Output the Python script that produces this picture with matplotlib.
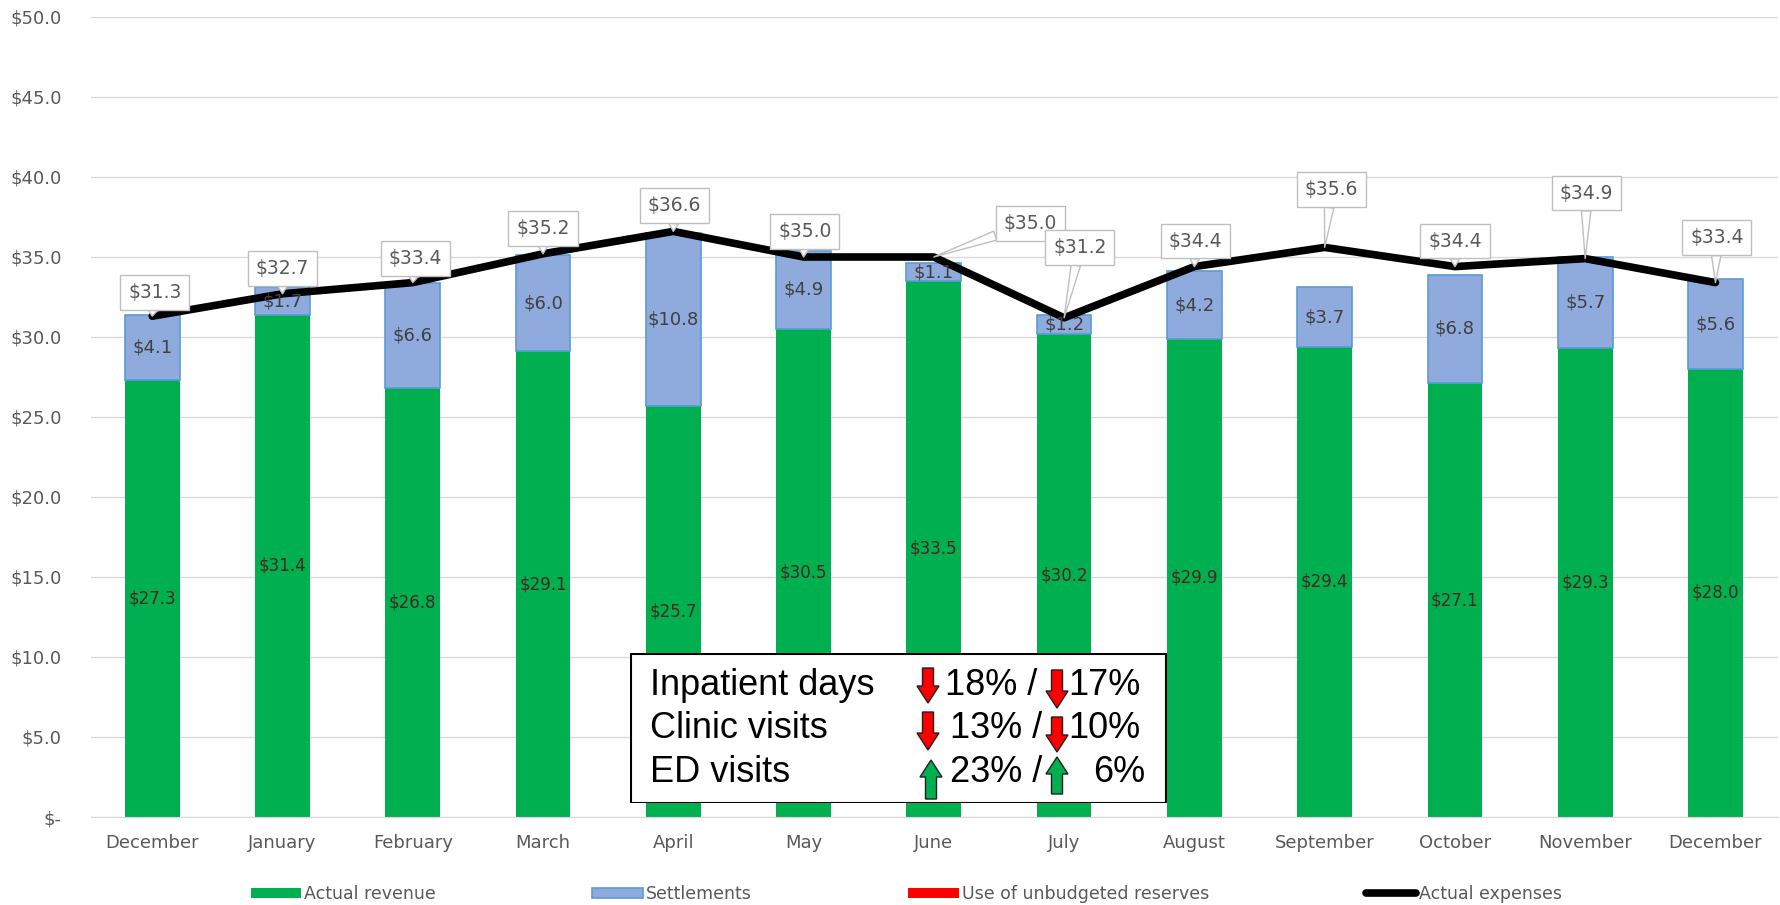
import matplotlib.pyplot as plt
from matplotlib.patches import Rectangle, Polygon
from matplotlib.ticker import FuncFormatter, MultipleLocator

plt.rcParams['font.family'] = ['DejaVu Sans']

months = ['December', 'January', 'February', 'March', 'April', 'May', 'June',
          'July', 'August', 'September', 'October', 'November', 'December']
revenue = [27.3, 31.4, 26.8, 29.1, 25.7, 30.5, 33.5, 30.2, 29.9, 29.4, 27.1, 29.3, 28.0]
settlements = [4.1, 1.7, 6.6, 6.0, 10.8, 4.9, 1.1, 1.2, 4.2, 3.7, 6.8, 5.7, 5.6]
reserves = [0.0] * 13
expenses = [31.3, 32.7, 33.4, 35.2, 36.6, 35.0, 35.0, 31.2, 34.4, 35.6, 34.4, 34.9, 33.4]

stat_names = ['Inpatient days', 'Clinic visits', 'ED visits']
stat_a = ['18%', '13%', '23%']
stat_b = ['17%', '10%', '6%']
stat_up = [False, False, True]

# where each expense callout box sits, relative to its point (x in categories, y in $)
callout_dx = [0.02, 0, 0.02, 0, 0.01, 0.01, 0.74, 0.12, 0.01, 0.05, 0, 0.01, 0.01]
callout_dy = [1.5, 1.6, 1.5, 1.6, 1.6, 1.6, 2.1, 4.4, 1.6, 3.6, 1.6, 4.1, 2.8]

GREEN = '#00B050'
BLUE = '#8FAADC'
GREY = '#595959'

fig = plt.figure(figsize=(17.81, 9.05), dpi=100)
ax = fig.add_axes([91 / 1781, 1 - 817 / 905, (1778 - 91) / 1781, (817 - 17) / 905])

x = list(range(len(months)))
tops = [r + s for r, s in zip(revenue, settlements)]

b1 = ax.bar(x, revenue, width=0.42, color=GREEN, zorder=2, label='Actual revenue')
b2 = ax.bar(x, settlements, bottom=revenue, width=0.42, color=BLUE,
            edgecolor='#5B9BD5', linewidth=1.2, zorder=2, label='Settlements')
b3 = ax.bar(x, reserves, bottom=tops, width=0.42, color='#FF0000', linewidth=0,
            zorder=2, label='Use of unbudgeted reserves')
ln, = ax.plot(x, expenses, color='black', lw=5.5, zorder=3, label='Actual expenses',
              solid_capstyle='round')

ax.bar_label(b1, labels=[f'${v:.1f}' for v in revenue], label_type='center',
             color='#4A2820', fontsize=12)
ax.bar_label(b2, labels=[f'${v:.1f}' for v in settlements], label_type='center',
             color='#404040', fontsize=13)

for i, v in enumerate(expenses):
    ax.annotate(f'${v:.1f}', xy=(i, v), xytext=(i + callout_dx[i], v + callout_dy[i]),
                ha='center', va='center', fontsize=13.5, color=GREY, zorder=5,
                bbox=dict(boxstyle='square,pad=0.42', fc='white', ec='#BFBFBF', lw=1),
                arrowprops=dict(arrowstyle='wedge,tail_width=0.5,shrink_factor=0.5',
                                fc='white', ec='#BFBFBF', lw=1, shrinkA=0, shrinkB=0))

ax.set_xlim(-0.47, 12.48)
ax.set_ylim(0, 50)
ax.yaxis.set_major_locator(MultipleLocator(5))
ax.yaxis.set_major_formatter(FuncFormatter(lambda v, p: '$-' if v == 0 else f'${v:.1f}'))
ax.set_xticks(x)
ax.set_xticklabels(months)
ax.tick_params(axis='y', length=0, pad=21, labelsize=13, labelcolor=GREY)
ax.tick_params(axis='x', length=0, pad=12, labelsize=13, labelcolor=GREY)
ax.grid(axis='y', color='#D9D9D9', lw=1, zorder=0)
ax.set_axisbelow(True)
for s in ['top', 'right', 'left']:
    ax.spines[s].set_visible(False)
ax.spines['bottom'].set_color('#D9D9D9')

leg = fig.legend(handles=[b1, b2, b3, ln], loc='center', bbox_to_anchor=(0.509, 0.012),
                 ncol=4, frameon=False, fontsize=12.5, handlelength=2.9,
                 handleheight=0.55, handletextpad=0.2, columnspacing=9.0)
for t in leg.get_texts():
    t.set_color(GREY)

# stats box, in pixel units
bw, bh = 537, 150
bx = fig.add_axes([630 / 1781, (905 - 803) / 905, bw / 1781, bh / 905])
bx.set_xlim(0, bw)
bx.set_ylim(0, bh)
bx.axis('off')
bx.add_patch(Rectangle((0.5, 0.5), bw - 1, bh - 1, fc='white', ec='black', lw=1.5))


def arrow(axx, xc, y0, y1, up, color):
    # y0 = tail, y1 = tip
    hw, sw, hl = 11, 5.5, 17
    d = 1 if up else -1
    yb = y1 - d * hl
    pts = [(xc - sw, y0), (xc + sw, y0), (xc + sw, yb), (xc + hw, yb), (xc, y1),
           (xc - hw, yb), (xc - sw, yb)]
    axx.add_patch(Polygon(pts, closed=True, fc=color, ec='#202020', lw=1))


row_y = [118, 75, 31]
arr_a = [(135, 100), (91, 53), (4, 43)]
arr_b = [(133, 95), (86, 51), (9, 46)]
for k in range(3):
    yc = row_y[k]
    c = GREEN if stat_up[k] else '#FF0000'
    bx.text(20, yc, stat_names[k], fontsize=26, family='Liberation Sans', va='center')
    a0, a1 = arr_a[k]
    b0, b1_ = arr_b[k]
    arrow(bx, 298 if not stat_up[k] else 301, a0, a1, stat_up[k], c)
    arrow(bx, 427, b0, b1_, stat_up[k], c)
    bx.text(315 if k == 0 else 320, yc, stat_a[k] + ' /', fontsize=26,
            family='Liberation Sans', va='center')
    bx.text(438 if k < 2 else 463, yc, stat_b[k], fontsize=26,
            family='Liberation Sans', va='center')

fig.savefig('out.png', dpi=100)
